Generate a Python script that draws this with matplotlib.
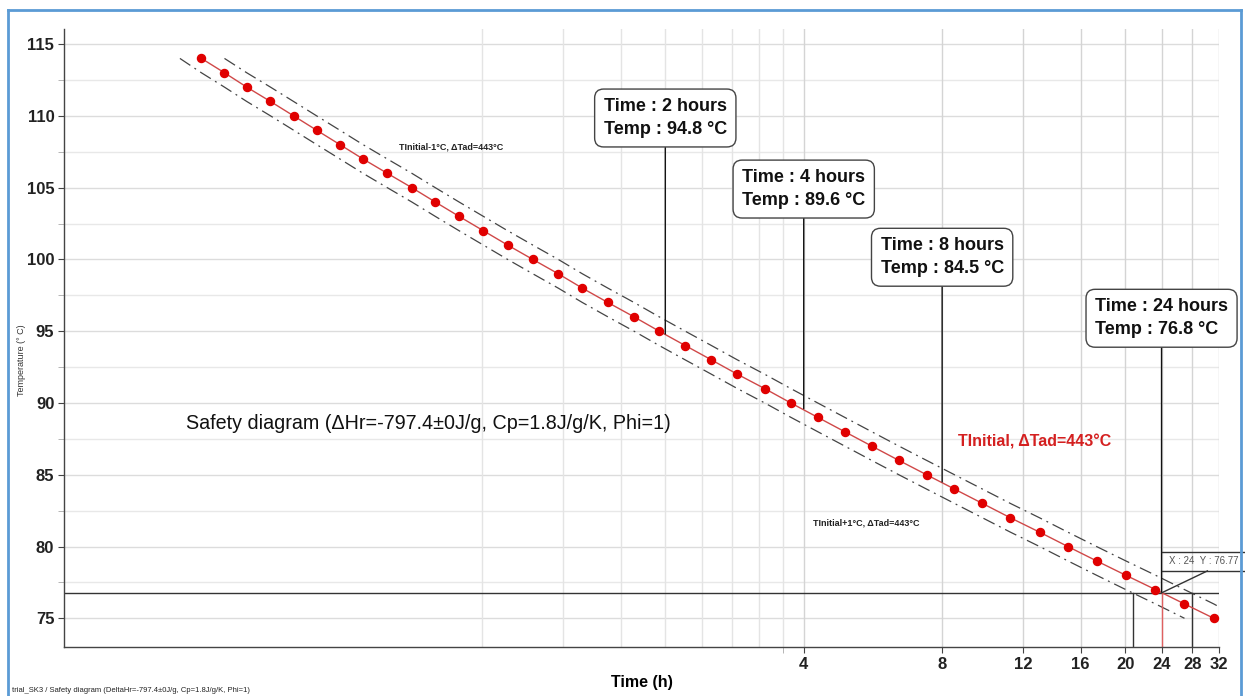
import matplotlib
matplotlib.use("Agg")
import matplotlib.pyplot as plt
from matplotlib.lines import Line2D
from matplotlib.ticker import FixedLocator, NullFormatter, FixedFormatter

plt.rcParams['font.family'] = ['Liberation Sans', 'DejaVu Sans']

# ---- data ----
temps = [114, 113, 112, 111, 110, 109, 108, 107, 106, 105,
         104, 103, 102, 101, 100, 99, 98, 97, 96, 95,
         94, 93, 92, 91, 90, 89, 88, 87, 86, 85,
         84, 83, 82, 81, 80, 79, 78, 77, 76, 75]
times = [0.196, 0.220, 0.246, 0.277, 0.311, 0.349, 0.392, 0.440, 0.497, 0.562,
         0.632, 0.712, 0.804, 0.908, 1.03, 1.17, 1.32, 1.50, 1.71, 1.94,
         2.21, 2.52, 2.87, 3.29, 3.75, 4.29, 4.91, 5.62, 6.44, 7.40,
         8.51, 9.79, 11.26, 13.03, 15.01, 17.33, 20.06, 23.28, 26.92, 31.17]
# band lines (T+1 / T-1 curves)
upper_times = times[1:] + [32.0]
upper_temps = [t + 1 for t in temps[1:]] + [75.8]
lower_times = [0.176] + times[:-1]
lower_temps = [114] + [t - 1 for t in temps[:-1]]

x_ticks = [4, 8, 12, 16, 20, 24, 28, 32]
x_grid_minor = [0.8, 1.2, 1.6, 2.0, 2.4, 2.8, 3.2, 3.6]
y_ticks = [75, 80, 85, 90, 95, 100, 105, 110, 115]
y_minor = [77.5, 82.5, 87.5, 92.5, 97.5, 102.5, 107.5, 112.5]

callouts = [(2, 94.8, 109.85), (4, 89.6, 104.9), (8, 84.5, 100.15), (24, 76.8, 95.9)]
cursor_x, cursor_y = 24, 76.77
band_cross = [20.8, 28.0]

# ---- figure ----
fig = plt.figure(figsize=(12.45, 6.96), dpi=100)
fig.patch.set_facecolor('white')
# blue frame
fc = '#5b9bd5'
fig.add_artist(Line2D([8/1245, 8/1245], [0, 1 - 10/696], transform=fig.transFigure, color=fc, lw=2))
fig.add_artist(Line2D([8/1245, 1241/1245], [1 - 10/696, 1 - 10/696], transform=fig.transFigure, color=fc, lw=2))
fig.add_artist(Line2D([1241/1245, 1241/1245], [0, 1 - 10/696], transform=fig.transFigure, color=fc, lw=2))

ax = fig.add_axes([64/1245, 49/696, (1219 - 64)/1245, (647 - 29)/696])
ax.set_xscale('log', base=2)
ax.set_xlim(0.0985, 32)
ax.set_ylim(73.0, 116.05)

for s in ['top', 'right']:
    ax.spines[s].set_visible(False)
for s in ['left', 'bottom']:
    ax.spines[s].set_color('#444444')
    ax.spines[s].set_linewidth(1)

# grid
for y in y_ticks:
    ax.axhline(y, color='#dcdcdc', lw=1, zorder=0)
for y in y_minor:
    ax.axhline(y, color='#e8e8e8', lw=1, zorder=0)
for x in x_grid_minor:
    ax.axvline(x, color='#e4e4e4', lw=1, zorder=0)
for x in x_ticks:
    ax.axvline(x, color='#d4d4d4', lw=1, zorder=0)

ax.xaxis.set_major_locator(FixedLocator(x_ticks))
ax.xaxis.set_major_formatter(FixedFormatter([str(v) for v in x_ticks]))
ax.xaxis.set_minor_locator(FixedLocator([3.6]))
ax.xaxis.set_minor_formatter(NullFormatter())
ax.yaxis.set_major_locator(FixedLocator(y_ticks))
ax.yaxis.set_minor_locator(FixedLocator(y_minor))
ax.tick_params(axis='both', which='major', labelsize=12, length=4, color='#444444', pad=3)
ax.tick_params(axis='both', which='minor', length=4, color='#aaaaaa')
for lab in ax.get_xticklabels() + ax.get_yticklabels():
    lab.set_fontweight('bold')
    lab.set_color('#222222')

# band lines
dashdot = (0, (10, 4, 1.5, 4))
ax.plot(upper_times, upper_temps, color='#444444', lw=0.9, ls=dashdot, zorder=2)
ax.plot(lower_times, lower_temps, color='#444444', lw=0.9, ls=dashdot, zorder=2)

# main series
ax.plot(times, temps, color='#d04848', lw=1, zorder=3)
ax.plot(times, temps, ls='none', marker='o', ms=5.8, mfc='#e00000', mec='#e00000', zorder=4)

# cursor lines
ax.axhline(cursor_y, color='#333333', lw=1, zorder=2)
ax.plot([cursor_x, cursor_x], [73.0, cursor_y], color='#e06060', lw=1, zorder=2)
for bx in band_cross:
    ax.plot([bx, bx], [73.0, cursor_y], color='#333333', lw=1, zorder=2)

# callouts
for t, T, ybox in callouts:
    ax.annotate(f"Time : {t} hours\nTemp : {T} \u00b0C", xy=(t, T), xytext=(t, ybox),
                ha='center', va='center', multialignment='left', linespacing=1.45,
                fontsize=13, fontweight='bold', color='#111111',
                bbox=dict(boxstyle='round,pad=0.5,rounding_size=0.5', fc='white', ec='#444444', lw=1),
                arrowprops=dict(arrowstyle='-', color='#111111', lw=1, shrinkA=0, shrinkB=0),
                zorder=6, annotation_clip=False)

# cursor readout box
ax.text(cursor_x * 1.04, 79.0, "X : 24  Y : 76.77", fontsize=7, color='#555555',
        ha='left', va='center', zorder=6, clip_on=False)
ax.plot([cursor_x, 40], [79.62, 79.62], color='#333333', lw=1, clip_on=False, zorder=6)
ax.plot([cursor_x, 40], [78.3, 78.3], color='#333333', lw=1, clip_on=False, zorder=6)
ax.plot([cursor_x, 30.2], [cursor_y, 78.3], color='#333333', lw=1, clip_on=False, zorder=6)

# texts
ax.text(0.1816, 88.6, "Safety diagram (\u0394Hr=-797.4\u00b10J/g, Cp=1.8J/g/K, Phi=1)",
        fontsize=14.2, color='#111111', ha='left', va='center')
ax.text(8.65, 87.3, "TInitial, \u0394Tad=443\u00b0C", fontsize=11.5, fontweight='bold',
        color='#d42020', ha='left', va='center')
ax.text(0.526, 107.8, "TInitial-1\u00b0C, \u0394Tad=443\u00b0C", fontsize=6.5, fontweight='bold',
        color='#222222', ha='left', va='center')
ax.text(4.19, 81.65, "TInitial+1\u00b0C, \u0394Tad=443\u00b0C", fontsize=6.5, fontweight='bold',
        color='#222222', ha='left', va='center')

ax.set_xlabel("Time (h)", fontsize=11.5, fontweight='bold', labelpad=2)
fig.text(22/1245, 1 - 360/696, "Temperature (\u00b0 C)", rotation=90, fontsize=6.5,
         color='#333333', ha='center', va='center')
fig.text(12/1245, 1 - 690/696, "trial_SK3 / Safety diagram (DeltaHr=-797.4\u00b10J/g, Cp=1.8J/g/K, Phi=1)",
         fontsize=5.5, color='#222222', ha='left', va='center')

fig.savefig("out.png", dpi=100, facecolor='white')
